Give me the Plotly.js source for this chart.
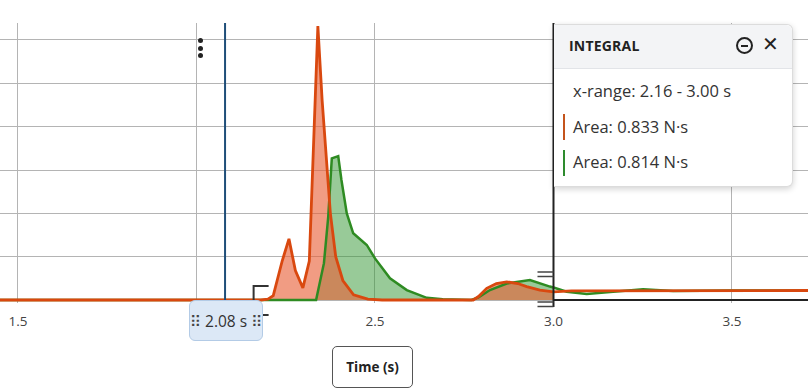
<!DOCTYPE html>
<html>
<head>
<meta charset="utf-8">
<script src="https://cdn.plot.ly/plotly-3.0.1.min.js"></script>
<style>
  html, body { margin: 0; padding: 0; background: #fff; }
  #wrap { position: relative; width: 808px; height: 392px; overflow: hidden; font-family: "Open Sans", "Noto Sans", sans-serif; }
  #chart { position: absolute; left: 0; top: 0; width: 808px; height: 392px; }
  .panel { position: absolute; left: 554px; top: 24px; width: 239px; height: 163px; background: #fff;
           border: 1px solid #dcdcdc; border-left: none; border-radius: 0 6px 6px 0; box-shadow: 0 2px 6px rgba(0,0,0,0.18); box-sizing: border-box; }
  .phead { height: 43px; background: #f3f4f6; border-bottom: 1px solid #e2e4e8; position: relative; border-radius: 0 6px 0 0; }
  .ptitle { position: absolute; left: 15px; top: 11px; font-weight: 700; font-size: 14px; color: #222; letter-spacing: 0.2px; }
  .icon1 { position: absolute; left: 182px; top: 12px; width: 17px; height: 17px; border: 2px solid #222; border-radius: 50%; box-sizing: border-box; }
  .icon1:after { content: ""; position: absolute; left: 3px; top: 5.5px; width: 7px; height: 2px; background: #222; }
  .icon2 { position: absolute; left: 208px; top: 7px; font-size: 20px; color: #222; font-family: "DejaVu Sans", sans-serif; }
  .prow { position: absolute; left: 19px; font-size: 16.5px; color: #333; }
  .bar { position: absolute; left: 9px; width: 2px; }
  .cursorlab { position: absolute; left: 189px; top: 300px; width: 74px; height: 41px; background: #dce8f6; border: 1px solid #b3cbe6;
               border-radius: 6px; box-sizing: border-box; font-size: 15.5px; color: #333; text-align: center; line-height: 40px; white-space: nowrap; }
  .grip { font-family: "DejaVu Sans", sans-serif; color: #444; font-size: 15px; }
  .timebox { position: absolute; left: 332px; top: 346px; width: 81px; height: 42px; background: #fff; border: 1px solid #555;
             border-radius: 5px; box-sizing: border-box; font-size: 13.5px; font-weight: 700; color: #222; text-align: center; line-height: 40px; }
  .dot { position: absolute; left: 198px; width: 5px; height: 5px; border-radius: 50%; background: #222; }
</style>
</head>
<body>
<div id="wrap">
  <div id="chart"></div>
  <div class="dot" style="top:38px"></div>
  <div class="dot" style="top:45.5px"></div>
  <div class="dot" style="top:53px"></div>
  <div class="cursorlab"><span class="grip">&#x283F;</span> 2.08 s <span class="grip">&#x283F;</span></div>
  <div class="timebox">Time (s)</div>
  <div class="panel">
    <div class="phead">
      <div class="ptitle">INTEGRAL</div>
      <div class="icon1"></div>
      <div class="icon2">&#x2715;</div>
    </div>
    <div class="prow" style="top:54px">x-range: 2.16 - 3.00 s</div>
    <div class="bar" style="top:89px;height:26px;background:#c4541c"></div>
    <div class="prow" style="top:90px">Area: 0.833 N·s</div>
    <div class="bar" style="top:125px;height:26px;background:#2e8b2e"></div>
    <div class="prow" style="top:125px">Area: 0.814 N·s</div>
  </div>
</div>
<script>
// ---- data ----
const orangeX = [1.44, 2.18, 2.20, 2.215, 2.24, 2.259, 2.277, 2.298, 2.316, 2.340, 2.352, 2.365, 2.375, 2.39, 2.41, 2.44, 2.48, 2.52, 2.60, 2.70, 2.775, 2.79, 2.813, 2.84, 2.869, 2.90, 2.925, 2.962, 3.00, 3.05, 3.10, 3.20, 3.30, 3.40, 3.50, 3.60, 3.72];
const orangeY = [0, 0, 0.02, 0.10, 0.90, 1.41, 0.68, 0.28, 0.90, 6.32, 4.6, 3.0, 2.0, 1.0, 0.45, 0.12, 0.02, 0, 0, 0, 0.0, 0.08, 0.27, 0.38, 0.42, 0.38, 0.31, 0.23, 0.19, 0.21, 0.21, 0.22, 0.21, 0.22, 0.22, 0.22, 0.22];
const greenX = [1.44, 2.335, 2.357, 2.369, 2.379, 2.397, 2.406, 2.421, 2.439, 2.477, 2.50, 2.542, 2.589, 2.645, 2.69, 2.77, 2.79, 2.822, 2.869, 2.934, 2.99, 3.00, 3.037, 3.093, 3.167, 3.251, 3.335, 3.42, 3.50, 3.60, 3.72];
const greenY = [0, 0, 0.85, 1.92, 3.27, 3.32, 2.77, 2.0, 1.54, 1.27, 0.96, 0.5, 0.23, 0.05, 0.015, 0, 0.06, 0.23, 0.38, 0.46, 0.31, 0.29, 0.19, 0.14, 0.19, 0.25, 0.21, 0.22, 0.22, 0.22, 0.22];
const xTicks = [1.5, 2.0, 2.5, 3.0, 3.5];
const xTickText = ["1.5", "", "2.5", "3.0", "3.5"];  // 2.0 is hidden behind the cursor label
const cursorX = 2.08;
const rangeStart = 2.16, rangeEnd = 3.00;

function clip(xs, ys) {
  const ox = [], oy = [];
  xs.forEach((x, i) => { if (x >= rangeStart && x <= rangeEnd) { ox.push(x); oy.push(ys[i]); } });
  return {x: ox, y: oy};
}
const gf = clip(greenX, greenY), of = clip(orangeX, orangeY);

const traces = [
  {x: gf.x, y: gf.y, type: 'scatter', mode: 'lines', fill: 'tozeroy', fillcolor: 'rgba(50,150,50,0.5)', line: {width: 0}, hoverinfo: 'skip'},
  {x: of.x, y: of.y, type: 'scatter', mode: 'lines', fill: 'tozeroy', fillcolor: 'rgba(232,95,55,0.62)', line: {width: 0}, hoverinfo: 'skip'},
  {x: greenX, y: greenY, type: 'scatter', mode: 'lines', line: {color: '#2e8b22', width: 2.5}},
  {x: orangeX, y: orangeY, type: 'scatter', mode: 'lines', line: {color: '#d9480f', width: 2.8}}
];

function py(p) { return (303 - p) / 280; }  // pixel y -> paper y
const dx = 1 / 357;
const layout = {
  width: 808, height: 392,
  margin: {l: 0, r: 0, t: 23, b: 89},
  paper_bgcolor: '#fff', plot_bgcolor: '#fff',
  showlegend: false,
  font: {family: '"Open Sans", "Noto Sans", sans-serif'},
  xaxis: {range: [1.4496, 3.7129], tickvals: xTicks, ticktext: xTickText, showgrid: true, gridcolor: '#b4b4b4', gridwidth: 1,
          zeroline: false, showline: false, ticks: '', ticklabelstandoff: 8, tickfont: {size: 13.5, color: '#444'}},
  yaxis: {range: [-0.069, 6.392], dtick: 1, tick0: 0, showgrid: true, gridcolor: '#b4b4b4', gridwidth: 1,
          zeroline: false, showticklabels: false, ticks: ''},
  shapes: [
    {type: 'line', xref: 'x', yref: 'paper', x0: cursorX, x1: cursorX, y0: 0, y1: 1, line: {color: '#1f4e79', width: 2}},
    {type: 'line', xref: 'x', yref: 'paper', x0: rangeEnd, x1: rangeEnd, y0: py(307), y1: 1, line: {color: '#222', width: 2}},
    {type: 'line', xref: 'x', yref: 'y', x0: rangeEnd, x1: 3.7129, y0: 0, y1: 0, line: {color: '#222', width: 2}},
    {type: 'path', xref: 'x', yref: 'paper',
     path: `M ${rangeStart + 15*dx} ${py(286)} L ${rangeStart} ${py(286)} L ${rangeStart} ${py(315)} L ${rangeStart + 15*dx} ${py(315)}`,
     line: {color: '#333', width: 2}},
    {type: 'line', xref: 'x', yref: 'paper', x0: rangeEnd - 16*dx, x1: rangeEnd, y0: py(272), y1: py(272), line: {color: '#444', width: 1.5}},
    {type: 'line', xref: 'x', yref: 'paper', x0: rangeEnd - 16*dx, x1: rangeEnd, y0: py(276.5), y1: py(276.5), line: {color: '#444', width: 1.5}},
    {type: 'line', xref: 'x', yref: 'paper', x0: rangeEnd - 16*dx, x1: rangeEnd, y0: py(302), y1: py(302), line: {color: '#444', width: 1.5}},
    {type: 'line', xref: 'x', yref: 'paper', x0: rangeEnd - 16*dx, x1: rangeEnd, y0: py(306.5), y1: py(306.5), line: {color: '#444', width: 1.5}}
  ]
};
Plotly.newPlot('chart', traces, layout, {displayModeBar: false, staticPlot: true});
</script>
</body>
</html>
